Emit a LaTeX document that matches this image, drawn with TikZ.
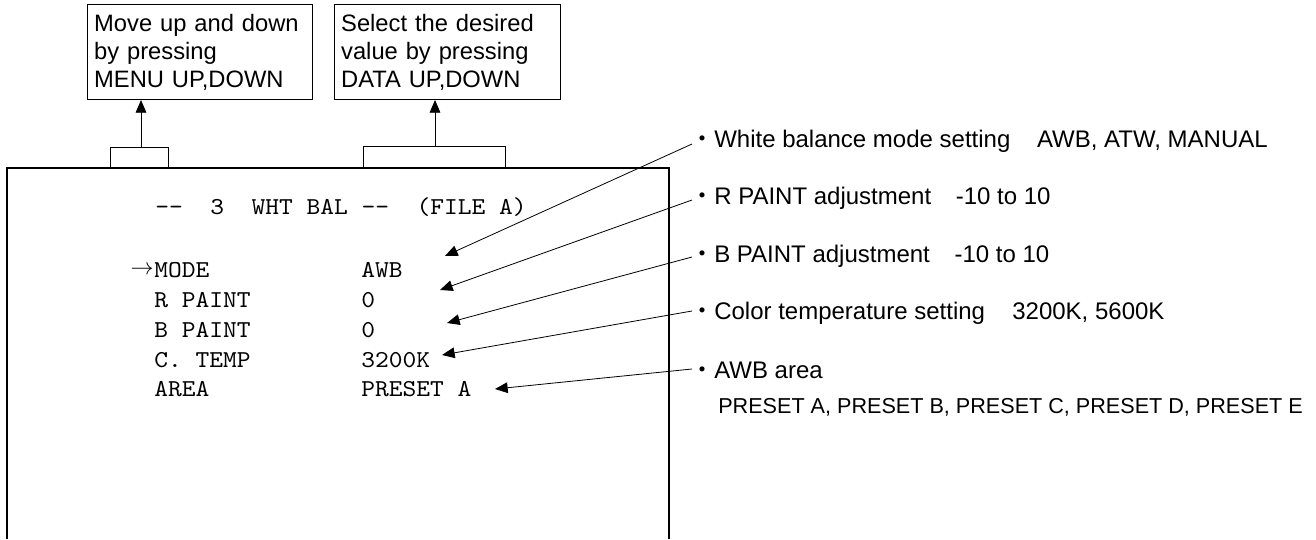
\documentclass[tikz,border=0pt]{standalone}
\usepackage{fontspec}
\setmainfont{Liberation Sans}
\newfontfamily\scrfont[FakeStretch=1.08]{lmmono10-regular.otf}
\newfontfamily\cjk{Noto Sans CJK JP}
\usepackage{tikz}
\usetikzlibrary{arrows.meta}
\tikzset{
  notebox/.style={draw, line width=0.75pt, anchor=north west, align=left,
    inner xsep=5pt, minimum height=71.25pt,
    font=\fontsize{17.8}{21}\selectfont},
  scr/.style={anchor=base west, inner sep=0pt,
    font=\scrfont\fontsize{18.2}{20}\selectfont},
  remark/.style={anchor=base west, inner sep=0pt,
    font=\fontsize{18}{21}\selectfont},
  pointer/.style={line width=0.6pt, -{Triangle[length=9.5pt,width=8pt]}}
}

\begin{document}
\begin{tikzpicture}[x=0.75pt,y=-0.75pt]
    \useasboundingbox (0,0) rectangle (1316,539);
    % boxes above the screen
    \node[notebox, text width=158.75pt] (menubox) at (87,4) {Move up and down\\by pressing\\MENU UP,DOWN};
    \node[notebox, text width=159.5pt] (databox) at (334,4) {Select the desired\\value by pressing\\DATA UP,DOWN};
    \coordinate (menukey) at (141,147);
    \coordinate (datakey) at (435,146);
    \draw[line width=0.75pt] (110,168) |- (168,147) -- (168,168);
    \draw[line width=0.75pt] (363,168) |- (505,146) -- (505,168);
    \draw[pointer] (menukey) -- (menubox.south -| menukey);
    \draw[pointer] (datakey) -- (databox.south -| datakey);
    % screen
    \draw[line width=0.8pt] (7,539) -- (7,168) -- (669,168) -- (669,539);
    \node[scr] (ttl) at (155,214) {-{}-~~3~~WHT BAL -{}-~~(FILE A)};
    \node[anchor=base east, inner sep=0pt, font=\fontsize{17.25}{20}\selectfont] (cur) at (154,277) {\raisebox{2pt}{$\rightarrow$}};
    \node[scr] (mode) at (154,277) {MODE};
    \node[scr] (rpaint) at (154,307) {R PAINT};
    \node[scr] (bpaint) at (154,337) {B PAINT};
    \node[scr] (ctemp) at (154,367) {C. TEMP};
    \node[scr] (area) at (154,396) {AREA};
    \node[scr] (modeval) at (361,277) {AWB};
    \node[scr] (rpaintval) at (361,307) {0};
    \node[scr] (bpaintval) at (361,337) {0};
    \node[scr] (ctempval) at (361,367) {3200K};
    \node[scr] (areaval) at (361,396) {PRESET A};
    % remarks on the right
    \node[remark] (wb) at (690,147) {{\cjk ・}White balance mode setting\hspace{20pt}AWB, ATW, MANUAL};
    \node[remark] (rp) at (690,204) {{\cjk ・}R PAINT adjustment\hspace{18.5pt}-10 to 10};
    \node[remark] (bp) at (690,262) {{\cjk ・}B PAINT adjustment\hspace{18.5pt}-10 to 10};
    \node[remark] (ct) at (690,319) {{\cjk ・}Color temperature setting\hspace{20.5pt}3200K, 5600K};
    \node[remark] (ar) at (690,378) {{\cjk ・}AWB area};
    \node[remark, font=\fontsize{16.2}{20}\selectfont] (arlist) at (718,413) {PRESET A, PRESET B, PRESET C, PRESET D, PRESET E};
    \coordinate (tipmode) at (445,256);
    \coordinate (tiprpaint) at (440,290);
    \coordinate (tipbpaint) at (447,323);
    \coordinate (tipctemp) at (442,355);
    \coordinate (tiparea) at (495,389);
    \draw[pointer] ([shift={(2,-3)}]wb.base west) -- (tipmode);
    \draw[pointer] ([shift={(2,-4)}]rp.base west) -- (tiprpaint);
    \draw[pointer] ([shift={(2,-5)}]bp.base west) -- (tipbpaint);
    \draw[pointer] ([shift={(2,-8)}]ct.base west) -- (tipctemp);
    \draw[pointer] ([shift={(2,-9)}]ar.base west) -- (tiparea);
\end{tikzpicture}
\end{document}
